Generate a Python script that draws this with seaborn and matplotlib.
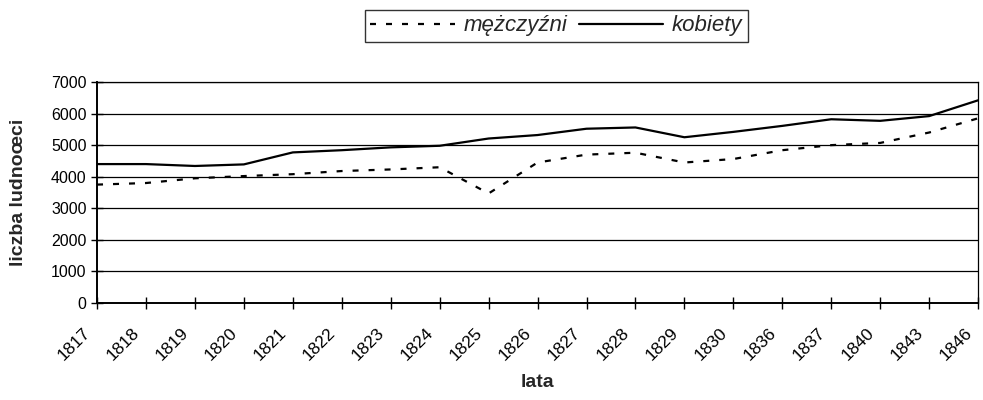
import pandas as pd
import numpy as np
import matplotlib.pyplot as plt
import matplotlib.transforms as mtransforms
import seaborn as sns

lata = ['1817', '1818', '1819', '1820', '1821', '1822', '1823', '1824', '1825', '1826',
        '1827', '1828', '1829', '1830', '1836', '1837', '1840', '1843', '1846']
mezczyzni = [3750, 3800, 3950, 4020, 4080, 4180, 4230, 4300, 3470, 4450,
             4700, 4760, 4450, 4560, 4840, 5000, 5070, 5400, 5850]
kobiety = [4400, 4400, 4340, 4390, 4770, 4840, 4930, 4980, 5210, 5320,
           5520, 5560, 5250, 5420, 5610, 5820, 5770, 5920, 6420]

df = pd.DataFrame({
    'lata': lata * 2,
    'liczba': mezczyzni + kobiety,
    'plec': ['mężczyźni'] * len(lata) + ['kobiety'] * len(lata),
})

sns.set_style('white')
plt.rcParams['font.family'] = ['Liberation Sans', 'DejaVu Sans']

fig = plt.figure(figsize=(9.83, 4.0), dpi=100)
ax = fig.add_axes([0.0987, 0.2425, 0.8963, 0.5525])

sns.lineplot(data=df, x='lata', y='liczba', style='plec', color='black',
             dashes={'mężczyźni': (2.7, 4.5), 'kobiety': ''},
             linewidth=1.6, sort=False, ax=ax)

ax.set_ylim(0, 7000)
ax.set_yticks(range(0, 7001, 1000))
ax.set_xlim(0, len(lata) - 1)
ax.yaxis.grid(True, color='black', linewidth=0.9)
ax.set_axisbelow(True)
for s in ax.spines.values():
    s.set_color('black')
    s.set_linewidth(0.9)
ax.spines['left'].set_linewidth(1.4)
ax.spines['bottom'].set_linewidth(1.4)

ax.tick_params(axis='both', direction='inout', length=8, width=1, color='black',
               labelcolor='black', bottom=True, left=True)
ax.tick_params(axis='y', labelsize=11.5)
ax.tick_params(axis='x', labelsize=12.5, pad=12)
plt.setp(ax.get_xticklabels(), rotation=45, ha='right', rotation_mode='anchor')
# przesuniecie etykiet osi x w lewo jak w oryginale
shift = mtransforms.ScaledTranslation(-14 / 100, 0, fig.dpi_scale_trans)
for lbl in ax.get_xticklabels():
    lbl.set_transform(lbl.get_transform() + shift)

ax.set_xlabel('lata', fontsize=14, fontweight='bold', labelpad=8)
ax.set_ylabel('liczba ludnoœci', fontsize=14, fontweight='bold', labelpad=17)

h, l = ax.get_legend_handles_labels()
ax.get_legend().remove()
leg = fig.legend(h, l, loc='center', bbox_to_anchor=(0.566, 0.935), ncol=2,
                 frameon=True, fancybox=False, edgecolor='black',
                 prop={'style': 'italic', 'size': 16}, handlelength=3.8,
                 handletextpad=0.4, columnspacing=0.5, borderpad=0.25,
                 borderaxespad=0)
leg.get_frame().set_linewidth(1.0)

fig.savefig('out.png', dpi=100)
